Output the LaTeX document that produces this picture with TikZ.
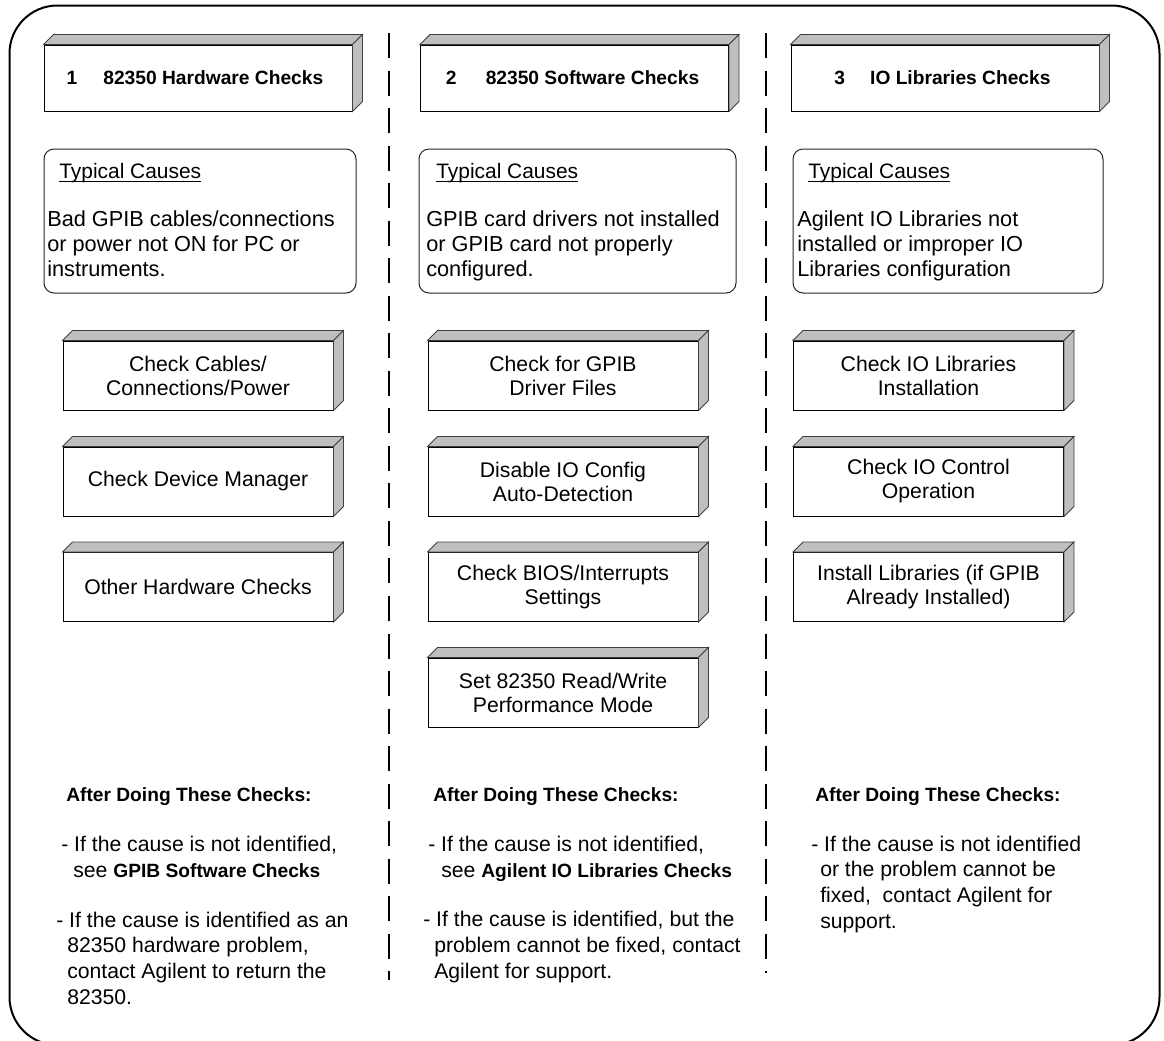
\documentclass[tikz,border=0pt]{standalone}
\usepackage{fontspec}
\setmainfont{Liberation Sans}
\usetikzlibrary{calc}
\newcommand\myul[1]{\setbox0\hbox{#1}\rlap{\rule[-3.2pt]{\wd0}{0.75pt}}\box0}
\newcommand\ttl[1]{\hspace*{#1}{\fontsize{15.7}{18.75}\selectfont\myul{Typical Causes}}}
\newcommand\boxfaces[1]{%
  \filldraw[face] (#1.north west) -- ++(10,-10) -- ($(#1.north east)+(10,-10)$) -- (#1.north east) -- cycle;
  \filldraw[face] (#1.north east) -- ++(10,-10) -- ($(#1.south east)+(10,-10)$) -- (#1.south east) -- cycle;}
\begin{document}
\begin{tikzpicture}[x=0.75pt,y=-0.75pt,
  hdr/.style={draw, line width=0.75pt, fill=white, minimum width=231pt, minimum height=49.5pt, inner sep=0pt, font=\fontsize{14.4}{17}\selectfont\bfseries},
  chk/.style={draw, line width=0.75pt, fill=white, minimum width=202.5pt, minimum height=51.75pt, inner sep=0pt, align=center, font=\fontsize{15.9}{18}\selectfont},
  cause/.style={draw=black!85, line width=0.75pt, rounded corners=7.5pt, minimum height=108pt, inner sep=0pt},
  causetxt/.style={anchor=base west, inner sep=0pt, align=left, font=\fontsize{16.3}{18.75}\selectfont},
  face/.style={fill=black!25, draw=black!75, line width=0.6pt},
  after/.style={anchor=base west, inner sep=0pt, font=\fontsize{14.4}{17}\selectfont\bfseries},
  para/.style={anchor=base west, inner sep=0pt, align=left, font=\fontsize{15.9}{19.2}\selectfont},
  divider/.style={line width=1.1pt, dash pattern=on 18.75pt off 9.4pt},
  frame/.style={line width=1.5pt, rounded corners=36pt}]
\useasboundingbox (0,0) rectangle (1164,1040);
\fill[white] (0,0) rectangle (1164,1040);
\begin{scope}
\clip (0,0) rectangle (1164,1040);
\draw[frame] (9.5,5.5) rectangle (1159.5,1045);
\end{scope}

% dividers
\coordinate (d1a) at (389,33); \coordinate (d1b) at (389,980);
\coordinate (d2a) at (766,33); \coordinate (d2b) at (766,973);
\draw[divider] (d1a) -- (d1b);
\draw[divider] (d2a) -- (d2b);

% headers
\node[hdr] (h1) at (198,78) {1\hspace*{19.5pt}82350 Hardware Checks\hspace*{4.5pt}};
\node[hdr] (h2) at (574.5,78) {2\hspace*{22pt}82350 Software Checks\hspace*{3pt}};
\node[hdr] (h3) at (945,78) {3\hspace*{18.75pt}IO Libraries Checks\hspace*{3.75pt}};
\boxfaces{h1}\boxfaces{h2}\boxfaces{h3}

% typical causes
\node[cause, minimum width=234pt] (tc1) at (200,221) {};
\node[cause, minimum width=237.75pt] (tc2) at (577.5,221) {};
\node[cause, minimum width=232.5pt] (tc3) at (948,221) {};
\node[causetxt] (tt1) at (47,276) {\ttl{9pt}\\[17.25pt]Bad GPIB cables/connections\\or power not ON for PC or\\instruments.};
\node[causetxt] (tt2) at (426,276) {\ttl{7.5pt}\\[17.25pt]GPIB card drivers not installed\\or GPIB card not properly\\configured.};
\node[causetxt] (tt3) at (797,276) {\ttl{8.25pt}\\[17.25pt]Agilent IO Libraries not\\installed or improper IO\\Libraries configuration};

% check boxes column 1
\node[chk] (a1) at (198,375.5) {Check Cables/\\Connections/Power};
\node[chk] (a2) at (198,481.5) {Check Device Manager};
\node[chk] (a3) at (198,587) {Other Hardware Checks};
\boxfaces{a1}\boxfaces{a2}\boxfaces{a3}
% column 2
\node[chk] (b1) at (563,375.5) {Check for GPIB\\Driver Files};
\node[chk] (b2) at (563,481.5) {Disable IO Config\\Auto-Detection};
\node[chk] (b3) at (563,587) {Check BIOS/Interrupts\\Settings};
\node[chk] (b4) at (563,692.5) {Set 82350 Read/Write\\Performance Mode};
\boxfaces{b1}\boxfaces{b2}\boxfaces{b3}\boxfaces{b4}
% column 3
\node[chk] (c1) at (928.5,375.5) {Check IO Libraries\\Installation};
\node[chk] (c2) at (928.5,481.5) {Check IO Control\\Operation};
\node[chk] (c3) at (928.5,587) {Install Libraries (if GPIB\\Already Installed)};
\boxfaces{c1}\boxfaces{c2}\boxfaces{c3}

% after-check notes (base = baseline of last line)
\node[after] (f1) at (66,801) {After Doing These Checks:};
\node[para] (p11) at (61,877) {- If the cause is not identified,\\\hspace*{9pt}see \textbf{\fontsize{14.4}{19.2}\selectfont GPIB Software Checks}};
\node[para] (p12) at (56,1004) {- If the cause is identified as an\\\hspace*{8.25pt}82350 hardware problem,\\\hspace*{8.25pt}contact Agilent to return the\\\hspace*{8.25pt}82350.};

\node[after] (f2) at (433,801) {After Doing These Checks:};
\node[para] (p21) at (428,877) {- If the cause is not identified,\\\hspace*{9.75pt}see \textbf{\fontsize{14.4}{19.2}\selectfont Agilent IO Libraries Checks}};
\node[para] (p22) at (423,978) {- If the cause is identified, but the\\\hspace*{8.25pt}problem cannot be fixed, contact\\\hspace*{8.25pt}Agilent for support.};

\node[after] (f3) at (815,801) {After Doing These Checks:};
\node[para] (p31) at (811,928) {- If the cause is not identified\\\hspace*{6.75pt}or the problem cannot be\\\hspace*{6.75pt}fixed,\ \ contact Agilent for\\\hspace*{6.75pt}support.};
\end{tikzpicture}
\end{document}
